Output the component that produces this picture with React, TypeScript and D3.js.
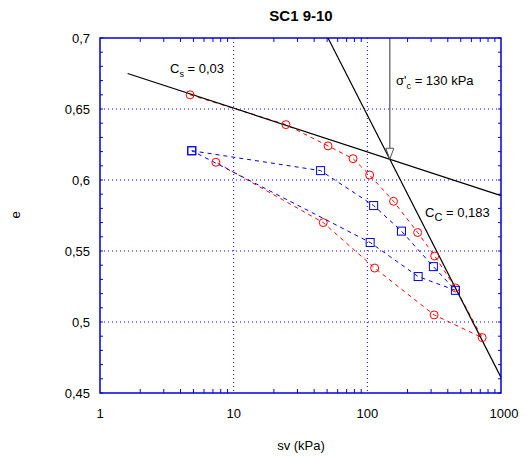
import React from "react";
import * as d3 from "d3";

const redX = [4.72, 24.6, 50.8, 78.2, 104, 157, 238, 319, 456, 723, 316, 113.5, 46.8, 7.36];
const redE = [0.66, 0.639, 0.624, 0.615, 0.6035, 0.585, 0.563, 0.5465, 0.524, 0.489, 0.505, 0.538, 0.57, 0.6125];
const blueX = [4.86, 44.7, 111.5, 180, 312, 456, 240, 105, 4.86];
const blueE = [0.6206, 0.6066, 0.582, 0.564, 0.539, 0.5223, 0.532, 0.556, 0.6206];
const csX = [1.61, 1000];
const csE = [0.675, 0.589];
const ccX = [50.8, 1000];
const ccE = [0.7, 0.461];
const xTicks = [1, 10, 100, 1000];
const yTicks = [0.45, 0.5, 0.55, 0.6, 0.65, 0.7];
const yTickLabels = ["0,45", "0,5", "0,55", "0,6", "0,65", "0,7"];

const W = 526, H = 457;
const L = 100, R = 501, T = 38, B = 393;
const FONT = "'Liberation Sans', Arial, sans-serif";

export default function App() {
  const x = d3.scaleLog().domain([1, 1000]).range([L, R]);
  const y = d3.scaleLinear().domain([0.45, 0.7]).range([B, T]);
  const line = d3.line<[number, number]>().x(d => x(d[0])).y(d => y(d[1]));
  const redPts: [number, number][] = redX.map((v, i) => [v, redE[i]]);
  const bluePts: [number, number][] = blueX.map((v, i) => [v, blueE[i]]);

  // intersection of Cs and Cc lines in log space
  const lx = (v: number) => Math.log10(v);
  const s1 = (csE[1] - csE[0]) / (lx(csX[1]) - lx(csX[0]));
  const s2 = (ccE[1] - ccE[0]) / (lx(ccX[1]) - lx(ccX[0]));
  const ix = (ccE[0] - csE[0] + s1 * lx(csX[0]) - s2 * lx(ccX[0])) / (s1 - s2);
  const ie = csE[0] + s1 * (ix - lx(csX[0]));
  const ax = x(Math.pow(10, ix));
  const ay = y(ie);

  const minorX: number[] = [];
  for (let d = 1; d < 1000; d *= 10) for (let k = 2; k <= 9; k++) minorX.push(d * k);
  const minorY = d3.range(0, 26).map(i => 0.45 + i * 0.01);

  const blue = "#0000dd";
  return (
    <svg width={W} height={H} style={{ position: "absolute", left: 0, top: 0 }} fontFamily={FONT}>
      <rect width={W} height={H} fill="white" />
      <text x={301} y={21} textAnchor="middle" fontWeight="bold" fontSize={15}>SC1 9-10</text>
      {/* grid */}
      {[10, 100].map(v => (
        <line key={"gx" + v} x1={x(v)} x2={x(v)} y1={T} y2={B} stroke={blue} strokeDasharray="1,3" />
      ))}
      {[0.5, 0.55, 0.6, 0.65].map(v => (
        <line key={"gy" + v} x1={L} x2={R} y1={y(v)} y2={y(v)} stroke={blue} strokeDasharray="1,3" />
      ))}
      {/* ticks */}
      {minorX.map(v => (
        <g key={"tx" + v}>
          <line x1={x(v)} x2={x(v)} y1={B} y2={B - 4} stroke={blue} />
          <line x1={x(v)} x2={x(v)} y1={T} y2={T + 4} stroke={blue} />
        </g>
      ))}
      {minorY.map(v => (
        <g key={"ty" + v}>
          <line x1={L} x2={L + 3} y1={y(v)} y2={y(v)} stroke={blue} />
          <line x1={R} x2={R - 3} y1={y(v)} y2={y(v)} stroke={blue} />
        </g>
      ))}
      {/* data */}
      <path d={line(redPts) || ""} fill="none" stroke="#ff0000" strokeDasharray="4,4" />
      <path d={line(bluePts) || ""} fill="none" stroke={blue} strokeDasharray="4,4" />
      {/* fit lines */}
      <path d={line(csX.map((v, i) => [v, csE[i]] as [number, number])) || ""} stroke="black" strokeWidth={1.2} fill="none" />
      <path d={line(ccX.map((v, i) => [v, ccE[i]] as [number, number])) || ""} stroke="black" strokeWidth={1.2} fill="none" />
      {/* arrow */}
      <line x1={ax} x2={ax} y1={T} y2={ay} stroke="#555" strokeWidth={1.2} />
      <path d={`M${ax - 4},${ay - 11} L${ax},${ay} L${ax + 4},${ay - 11} Z`} fill="white" stroke="#555" strokeWidth={1} />
      {redPts.map((p, i) => (
        <circle key={"r" + i} cx={x(p[0])} cy={y(p[1])} r={4} fill="none" stroke="#ff0000" strokeWidth={1} />
      ))}
      {bluePts.map((p, i) => (
        <rect key={"b" + i} x={x(p[0]) - 4} y={y(p[1]) - 4} width={8} height={8} fill="none" stroke={blue} strokeWidth={1} />
      ))}
      {/* frame */}
      <rect x={L} y={T} width={R - L} height={B - T} fill="none" stroke={blue} strokeWidth={1.5} />
      {/* axis labels */}
      {xTicks.map(v => (
        <text key={"xl" + v} x={x(v) + (v === 1000 ? 3 : 0)} y={418} textAnchor="middle" fontSize={13}>{v}</text>
      ))}
      {yTicks.map((v, i) => (
        <text key={"yl" + v} x={90} y={y(v)} dy="0.35em" textAnchor="end" fontSize={13}>{yTickLabels[i]}</text>
      ))}
      <text x={301} y={450} textAnchor="middle" fontSize={13}>sv (kPa)</text>
      <text transform="translate(20,215) rotate(-90)" textAnchor="middle" fontSize={13}>e</text>
      {/* annotations */}
      <text x={170} y={73} fontSize={13}>C<tspan fontSize={9} dy={4}>s</tspan><tspan dy={-4}> = 0,03</tspan></text>
      <text x={396} y={85} fontSize={13}>σ'<tspan fontSize={9} dy={4}>c</tspan><tspan dy={-4}> = 130 kPa</tspan></text>
      <text x={425} y={217} fontSize={13}>C<tspan fontSize={11} dy={4}>C</tspan><tspan dy={-4}> = 0,183</tspan></text>
    </svg>
  );
}
